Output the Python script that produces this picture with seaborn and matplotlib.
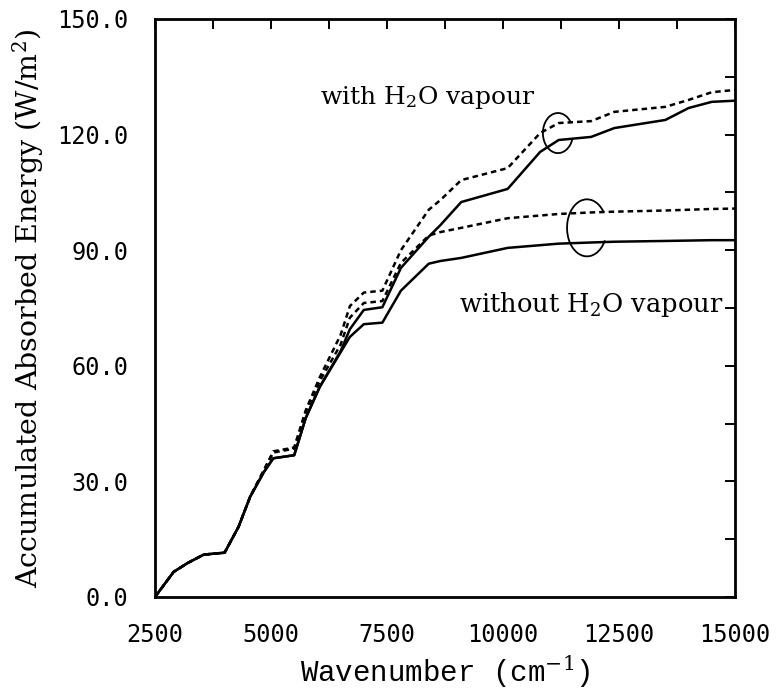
import numpy as np
import pandas as pd
import matplotlib
matplotlib.use("Agg")
import matplotlib.pyplot as plt
import seaborn as sns
from matplotlib.patches import Arc
from matplotlib.ticker import MultipleLocator, FormatStrFormatter

# ---- data ----
wavenumber = [2500, 2900, 3200, 3550, 4000, 4300, 4550, 4850, 5050, 5500,
              5750, 6050, 6500, 6700, 7000, 7400, 7800, 8400, 8650, 9100,
              10100, 10800, 11200, 11900, 12400, 13500, 14000, 14500, 15000]

without_h2o_solid = [0, 6.5, 8.8, 11.0, 11.5, 18.2, 26.0, 32.5, 36.0, 36.8,
                     46.5, 54.5, 63.5, 67.5, 70.8, 71.2, 79.5, 86.5, 87.2, 88.0,
                     90.6, 91.3, 91.7, 92.0, 92.2, 92.4, 92.5, 92.6, 92.6]
with_h2o_solid = [0, 6.5, 8.8, 11.0, 11.5, 18.2, 26.0, 32.5, 36.0, 36.8,
                  46.5, 54.5, 63.8, 69.5, 74.5, 75.2, 85.4, 93.5, 96.5, 102.5,
                  105.9, 115.5, 118.6, 119.4, 121.7, 123.8, 126.9, 128.5, 128.8]
without_h2o_dashed = [0, 6.5, 8.8, 11.0, 11.5, 18.2, 26.0, 33.0, 37.5, 38.5,
                      48.0, 56.0, 65.5, 72.5, 76.3, 76.8, 86.7, 93.8, 94.7, 95.8,
                      98.3, 99.0, 99.4, 99.8, 100.0, 100.3, 100.5, 100.7, 100.8]
with_h2o_dashed = [0, 6.5, 8.8, 11.0, 11.5, 18.2, 26.0, 33.0, 37.8, 38.8,
                   48.5, 57.0, 68.0, 75.5, 79.0, 79.5, 90.0, 100.5, 103.0, 108.2,
                   111.3, 120.4, 123.0, 123.5, 125.9, 127.2, 129.0, 131.0, 131.6]

x_ticks = [2500, 5000, 7500, 10000, 12500, 15000]
y_ticks = [0, 30, 60, 90, 120, 150]

# ---- style ----
sns.set_theme(style="white")
plt.rcParams["font.family"] = ["DejaVu Serif"]
plt.rcParams["mathtext.fontset"] = "dejavuserif"

fig = plt.figure(figsize=(7.76, 6.91), dpi=100)
ax = fig.add_axes([155 / 776, 1 - 597 / 691, 580 / 776, 578 / 691])

df = pd.DataFrame({
    "wn": wavenumber * 4,
    "val": without_h2o_solid + with_h2o_solid + without_h2o_dashed + with_h2o_dashed,
    "series": (["wo_s"] * len(wavenumber) + ["w_s"] * len(wavenumber)
               + ["wo_d"] * len(wavenumber) + ["w_d"] * len(wavenumber)),
})

sns.lineplot(data=df, x="wn", y="val", style="series",
             dashes={"wo_s": "", "w_s": "", "wo_d": (2.2, 1.6), "w_d": (2.2, 1.6)},
             color="black", linewidth=1.8, estimator=None, sort=False,
             legend=False, ax=ax)

ax.set_xlim(2500, 15000)
ax.set_ylim(0, 150)
ax.set_xticks(x_ticks)
ax.set_yticks(y_ticks)
ax.xaxis.set_minor_locator(MultipleLocator(1250))
ax.yaxis.set_minor_locator(MultipleLocator(15))
ax.yaxis.set_major_formatter(FormatStrFormatter("%.1f"))

for sp in ax.spines.values():
    sp.set_color("black")
    sp.set_linewidth(2.0)

ax.tick_params(which="both", direction="in", top=True, right=True,
               length=7, width=1.4, color="black")
ax.tick_params(which="major", labelsize=17, labelcolor="black")
ax.tick_params(axis="x", pad=19)
ax.tick_params(axis="y", pad=19)
for lab in ax.get_xticklabels() + ax.get_yticklabels():
    lab.set_family("DejaVu Sans Mono")

ax.set_xlabel("Wavenumber (cm$^{-1}$)", fontsize=21, family="Liberation Mono",
              color="black", labelpad=4)
ax.set_ylabel("Accumulated Absorbed Energy (W/m$^2$)", fontsize=20.5,
              color="black", labelpad=8)

ax.text(8390, 129.5, "with H$_2$O vapour", fontsize=18, ha="center",
        va="center", color="black")
ax.text(14750, 76.0, "without H$_2$O vapour", fontsize=18.5, ha="right",
        va="center", color="black")


def param_arc(center, w, h, t1, t2):
    """Arc whose gap is given in parametric (visual) angles."""
    a1 = np.degrees(np.arctan2(h * np.sin(np.radians(t1)), w * np.cos(np.radians(t1))))
    a2 = np.degrees(np.arctan2(h * np.sin(np.radians(t2)), w * np.cos(np.radians(t2))))
    return Arc(center, w, h, theta1=a1 % 360, theta2=a2 % 360,
               color="black", linewidth=1.3)


ax.add_patch(param_arc((11185, 120.4), 650, 10.4, 30, 340))
ax.add_patch(param_arc((11810, 95.8), 860, 14.8, 35, 334))

fig.savefig("out.png", dpi=100, facecolor="white")
